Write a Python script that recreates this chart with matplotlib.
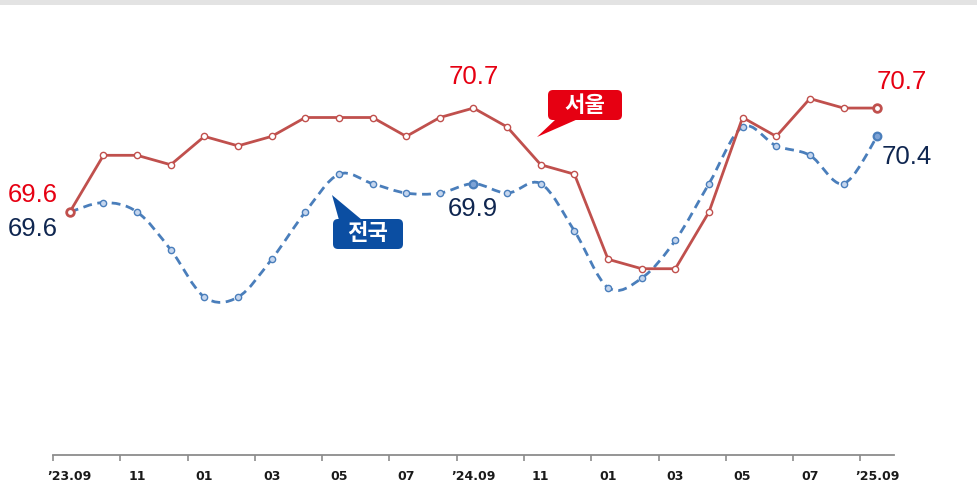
import numpy as np
import matplotlib.pyplot as plt
from matplotlib.path import Path
from matplotlib.patches import PathPatch, Rectangle, FancyBboxPatch, Polygon

plt.rcParams['font.family'] = ['Liberation Sans', 'DejaVu Sans']

# 월별 값 ('23.09 ~ '25.09)
seoul = [69.6, 70.2, 70.2, 70.1, 70.4, 70.3, 70.4, 70.6, 70.6, 70.6, 70.4, 70.6, 70.7,
         70.5, 70.1, 70.0, 69.1, 69.0, 69.0, 69.6, 70.6, 70.4, 70.8, 70.7, 70.7]
nation = [69.6, 69.7, 69.6, 69.2, 68.7, 68.7, 69.1, 69.6, 70.0, 69.9, 69.8, 69.8, 69.9,
          69.8, 69.9, 69.4, 68.8, 68.9, 69.3, 69.9, 70.5, 70.3, 70.2, 69.9, 70.4]
tick_labels = ['\u201923.09', '11', '01', '03', '05', '07', '\u201924.09',
               '11', '01', '03', '05', '07', '\u201925.09']

RED_LINE = '#c0504d'
RED_TXT = '#e60012'
BLUE_LINE = '#4a7ebb'
NAVY = '#0f2650'
BOX_BLUE = '#0b4ea2'
H = 482


def smooth_path(xs, ys):
    # 엑셀식 부드러운 선 (Catmull-Rom -> 베지어)
    p = np.column_stack([xs, ys]).astype(float)
    verts = [p[0]]
    codes = [Path.MOVETO]
    n = len(p)
    for i in range(n - 1):
        p0 = p[i - 1] if i > 0 else p[i]
        p1 = p[i]
        p2 = p[i + 1]
        p3 = p[i + 2] if i + 2 < n else p[i + 1]
        c1 = p1 + (p2 - p0) / 6.0
        c2 = p2 - (p3 - p1) / 6.0
        verts += [c1, c2, p2]
        codes += [Path.CURVE4] * 3
    return Path(verts, codes)


def callout(fig, text, box, tail, color):
    # box = (x0, y0, x1, y1) 위에서부터의 픽셀, tail = 꼭짓점 3개
    x0, y0, x1, y1 = box
    tr = fig.dpi_scale_trans
    s = 1 / fig.dpi
    fig.add_artist(Polygon([(px * s, (H - py) * s) for px, py in tail], closed=True,
                           transform=tr, fc=color, ec='none'))
    fig.add_artist(FancyBboxPatch((x0 * s, (H - y1) * s), (x1 - x0) * s, (y1 - y0) * s,
                                  boxstyle='round,pad=0,rounding_size=0.05',
                                  transform=tr, fc=color, ec='none'))
    fig.text((x0 + x1) / 2 * s, (H - (y0 + y1) / 2) * s, text, transform=tr,
             ha='center', va='center', fontsize=16, fontweight='bold', color='white',
             family=['Noto Sans CJK KR', 'DejaVu Sans'])


fig = plt.figure(figsize=(9.78, 4.82), dpi=100)
fig.add_artist(Rectangle((0, 1 - 5 / H), 1, 5 / H, transform=fig.transFigure,
                         facecolor='#e3e3e3', edgecolor='none'))

ax = fig.add_axes([53 / 978, 27 / H, 841 / 978, (455 - 79.7) / H])
x = np.arange(len(seoul))

ax.add_patch(PathPatch(smooth_path(x, nation), fill=False, edgecolor=BLUE_LINE,
                       lw=2.0, linestyle=(0, (3.2, 2.0)), zorder=2))
ax.plot(x, nation, ls='none', marker='o', ms=4.5, mfc='#c5d6ee', mec=BLUE_LINE, mew=1, zorder=3)
ax.plot([x[12], x[24]], [nation[12], nation[24]], ls='none', marker='o', ms=5.5,
        mfc='#7ea3d6', mec=BLUE_LINE, mew=1.6, zorder=4)

ax.plot(x, seoul, color=RED_LINE, lw=2.0, marker='o', ms=4.5, mfc='white', mec=RED_LINE,
        mew=1, zorder=5)
ax.plot([x[0], x[24]], [seoul[0], seoul[24]], ls='none', marker='o', ms=5.5, mfc='white',
        mec=RED_LINE, mew=2, zorder=6)

ax.set_xlim(-0.5, 24.5)
ax.set_ylim(67.029, 71.0)

# 값 라벨
lab = dict(fontsize=18.5, textcoords='offset points', ha='center', va='center')
ax.annotate(f'{seoul[0]}', (x[0], seoul[0]), xytext=(-26.5, 12.5), color=RED_TXT, **lab)
ax.annotate(f'{nation[0]}', (x[0], nation[0]), xytext=(-26.5, -12), color=NAVY, **lab)
ax.annotate(f'{seoul[12]}', (x[12], seoul[12]), xytext=(0, 22), color=RED_TXT, **lab)
ax.annotate(f'{nation[12]}', (x[12], nation[12]), xytext=(-0.5, -18), color=NAVY, **lab)
ax.annotate(f'{seoul[24]}', (x[24], seoul[24]), xytext=(17.5, 19), color=RED_TXT, **lab)
ax.annotate(f'{nation[24]}', (x[24], nation[24]), xytext=(21, -14.5), color=NAVY, **lab)

# 말풍선
callout(fig, '서울', (548, 90, 622, 120), [(537, 137), (556, 119), (578, 119)], RED_TXT)
callout(fig, '전국', (333, 219, 403, 249), [(332, 195), (339, 220), (362, 220)], BOX_BLUE)

# 축
for s in ['left', 'right', 'top']:
    ax.spines[s].set_visible(False)
ax.spines['bottom'].set_color('#8c8c8c')
ax.spines['bottom'].set_linewidth(1.3)
ax.set_yticks([])
ax.set_xticks(x[::2])
ax.set_xticklabels(tick_labels, fontsize=9, fontweight='bold', color='#1a1a1a',
                   family='DejaVu Sans')
ax.tick_params(axis='x', which='major', length=0, pad=11)
ax.set_xticks(np.arange(-0.5, 24, 2), minor=True)
ax.tick_params(axis='x', which='minor', length=4, width=1.2, color='#8c8c8c', direction='out')

plt.savefig('out.png', dpi=100)
